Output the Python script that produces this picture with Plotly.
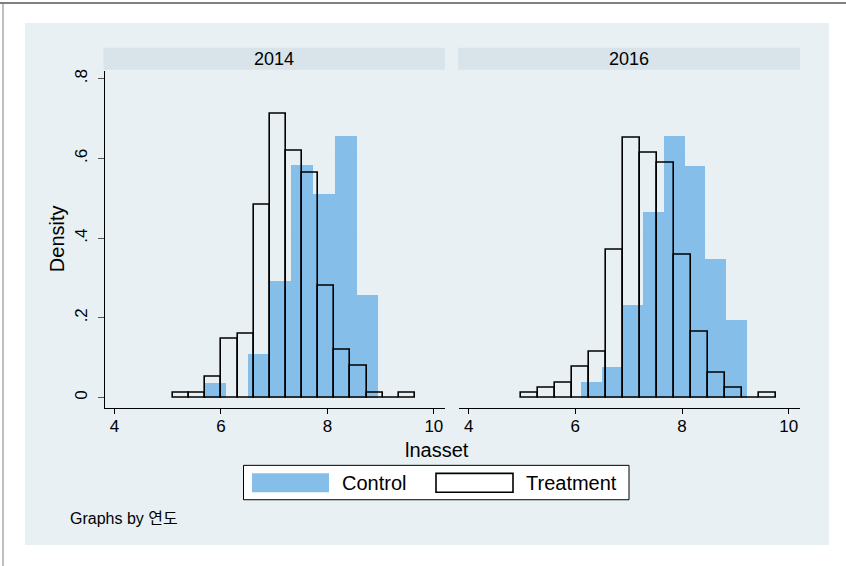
import plotly.graph_objects as go

# ---- data ----
years = ["2014", "2016"]

ctrl_2014_start = 5.68
ctrl_2014_width = 0.41
ctrl_2014_dens = [0.0375, 0.0, 0.111, 0.293, 0.584, 0.512, 0.6575, 0.257]

treat_2014_start = 5.10
treat_2014_width = 0.303
treat_2014_dens = [0.0117, 0.0117, 0.0525, 0.147, 0.161, 0.4825, 0.7125, 0.619,
                   0.563, 0.281, 0.119, 0.08, 0.0117, 0.0, 0.0117]

ctrl_2016_start = 6.11
ctrl_2016_width = 0.3875
ctrl_2016_dens = [0.04, 0.078, 0.2325, 0.465, 0.658, 0.581, 0.349, 0.194]

treat_2016_start = 4.99
treat_2016_width = 0.318
treat_2016_dens = [0.0125, 0.025, 0.0375, 0.076, 0.114, 0.371, 0.652, 0.613,
                   0.588, 0.3575, 0.166, 0.063, 0.025, 0.0, 0.0125]

x_ticks = [4, 6, 8, 10]
y_ticks = [0, 0.2, 0.4, 0.6, 0.8]
y_tick_labels = ["0", ".2", ".4", ".6", ".8"]

# ---- styling ----
W, H = 846, 566
FONT = "Liberation Sans, Arial, sans-serif"
BLUE = "#85bfe9"
REGION = "#e8f0f3"
STRIP = "#d8e4ea"
GRID = "#e6eef1"


def px(x):
    return x / W


def py(y):
    return 1 - y / H


def centers(start, width, n):
    return [start + width * (i + 0.5) for i in range(n)]


fig = go.Figure()

panels = [
    ("x", "y", ctrl_2014_start, ctrl_2014_width, ctrl_2014_dens,
     treat_2014_start, treat_2014_width, treat_2014_dens),
    ("x2", "y2", ctrl_2016_start, ctrl_2016_width, ctrl_2016_dens,
     treat_2016_start, treat_2016_width, treat_2016_dens),
]
for i, (xa, ya, cs, cw, cd, ts, tw, td) in enumerate(panels):
    fig.add_trace(go.Bar(
        x=centers(cs, cw, len(cd)), y=cd, width=cw,
        marker=dict(color=BLUE, line=dict(width=0)),
        name="Control", showlegend=False, xaxis=xa, yaxis=ya))
    fig.add_trace(go.Bar(
        x=centers(ts, tw, len(td)), y=td, width=tw,
        marker=dict(color="rgba(0,0,0,0)", line=dict(color="black", width=1.6)),
        name="Treatment", showlegend=False, xaxis=xa, yaxis=ya))

x_dom1 = [px(105), px(445)]
x_dom2 = [px(459), px(800)]
y_dom = [py(407.7), py(69)]
x_range = [3.82, 10.21]
y_range = [-0.027, 0.82]

common_x = dict(range=x_range, tickvals=x_ticks, ticks="outside", ticklen=5,
                tickcolor="black", tickwidth=1, showline=True, linecolor="black",
                linewidth=1, showgrid=False, zeroline=False,
                tickfont=dict(family=FONT, size=17, color="black"),
                ticklabelstandoff=-3, fixedrange=True)

fig.update_layout(
    width=W, height=H,
    margin=dict(l=0, r=0, t=0, b=0),
    paper_bgcolor="white", plot_bgcolor="white",
    barmode="overlay", bargap=0, showlegend=False,
    font=dict(family=FONT, color="black"),
    xaxis=dict(domain=x_dom1, anchor="y", **common_x),
    xaxis2=dict(domain=x_dom2, anchor="y2", **common_x),
    yaxis=dict(domain=y_dom, anchor="x", range=y_range, tickvals=y_ticks,
               ticktext=y_tick_labels, tickangle=-90, ticks="outside", ticklen=6,
               tickcolor="#555555", showline=True, linecolor="black", linewidth=1,
               showgrid=True, gridcolor=GRID, gridwidth=1, zeroline=False,
               tickfont=dict(family=FONT, size=17, color="black"),
               ticklabelstandoff=4, fixedrange=True),
    yaxis2=dict(domain=y_dom, anchor="x2", range=y_range, tickvals=y_ticks,
                showticklabels=False, ticks="", showline=False,
                showgrid=True, gridcolor=GRID, gridwidth=1, zeroline=False,
                fixedrange=True),
)

shapes = [
    # light region
    dict(type="rect", xref="paper", yref="paper", x0=px(25), x1=px(829),
         y0=py(545), y1=py(21), fillcolor=REGION, line=dict(width=0), layer="below"),
    # outer frame lines (top and left)
    dict(type="rect", xref="paper", yref="paper", x0=0, x1=1,
         y0=py(2), y1=1, fillcolor="#808080", line=dict(width=0), layer="below"),
    dict(type="rect", xref="paper", yref="paper", x0=px(2.5), x1=px(3.5),
         y0=0, y1=1, fillcolor="#808080", line=dict(width=0), layer="below"),
    # strips
    dict(type="rect", xref="paper", yref="paper", x0=px(103.5), x1=px(445),
         y0=py(68), y1=py(46), fillcolor=STRIP, line=dict(width=0), layer="below"),
    dict(type="rect", xref="paper", yref="paper", x0=px(458), x1=px(800),
         y0=py(68), y1=py(46), fillcolor=STRIP, line=dict(width=0), layer="below"),
    # legend box
    dict(type="rect", xref="paper", yref="paper", x0=px(243.5), x1=px(629),
         y0=py(499.5), y1=py(465), fillcolor="white",
         line=dict(color="black", width=1)),
    dict(type="rect", xref="paper", yref="paper", x0=px(252), x1=px(329),
         y0=py(492), y1=py(473), fillcolor=BLUE, line=dict(width=0)),
    dict(type="rect", xref="paper", yref="paper", x0=px(436), x1=px(513),
         y0=py(492), y1=py(473), fillcolor="white",
         line=dict(color="black", width=1.6)),
]
fig.update_layout(shapes=shapes)

ann = [
    dict(text=years[0], x=px(274), y=py(57), xanchor="center", yanchor="middle",
         font=dict(size=18)),
    dict(text=years[1], x=px(629), y=py(57), xanchor="center", yanchor="middle",
         font=dict(size=18)),
    dict(text="Density", x=px(57), y=py(238), textangle=-90, xanchor="center",
         yanchor="middle", font=dict(size=20)),
    dict(text="lnasset", x=px(437), y=py(450), xanchor="center", yanchor="middle",
         font=dict(size=20)),
    dict(text="Control", x=px(340), y=py(483), xanchor="left", yanchor="middle",
         font=dict(size=20)),
    dict(text="Treatment", x=px(524), y=py(483), xanchor="left", yanchor="middle",
         font=dict(size=20)),
    dict(text="Graphs by <span style='font-family:Noto Sans CJK KR'>연도</span>",
         x=px(68), y=py(517), xanchor="left", yanchor="middle",
         font=dict(size=16)),
]
for a in ann:
    a.update(xref="paper", yref="paper", showarrow=False)
    a.setdefault("font", {})
    a["font"].setdefault("family", FONT)
    a["font"].setdefault("color", "black")
fig.update_layout(annotations=ann)

fig.write_html("out.html",
               config={"displayModeBar": False},
               post_script="document.body.style.margin='0';"
                           "document.body.style.overflow='hidden';")
